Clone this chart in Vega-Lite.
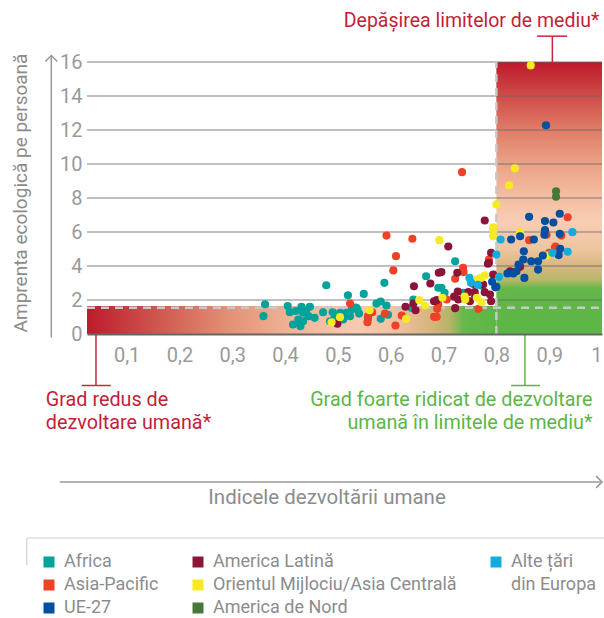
{
  "$schema": "https://vega.github.io/schema/vega-lite/v6.json",
  "autosize": {"type": "none"},
  "padding": {"left": 87, "top": 62, "right": 2, "bottom": 284},
  "width": 515,
  "height": 272,
  "config": {"view": {"stroke": null}, "font": "Roboto"},
  "datasets": {
    "points": [
      {"r":"Africa","x":0.362,"y":1.75},{"r":"Africa","x":0.359,"y":1.05},{"r":"Africa","x":0.405,"y":1.64},{"r":"Africa","x":0.409,"y":1.28},{"r":"Africa","x":0.431,"y":1.6},{"r":"Africa","x":0.447,"y":1.6},{"r":"Africa","x":0.434,"y":1.25},{"r":"Africa","x":0.425,"y":0.85},{"r":"Africa","x":0.415,"y":0.56},{"r":"Africa","x":0.429,"y":0.46},{"r":"Africa","x":0.444,"y":1.05},{"r":"Africa","x":0.456,"y":0.95},{"r":"Africa","x":0.472,"y":1.28},{"r":"Africa","x":0.49,"y":1.28},{"r":"Africa","x":0.494,"y":0.95},{"r":"Africa","x":0.485,"y":0.75},{"r":"Africa","x":0.504,"y":1.25},{"r":"Africa","x":0.478,"y":2.87},{"r":"Africa","x":0.519,"y":2.28},{"r":"Africa","x":0.516,"y":1.25},{"r":"Africa","x":0.526,"y":1.44},{"r":"Africa","x":0.535,"y":1.54},{"r":"Africa","x":0.523,"y":1.05},{"r":"Africa","x":0.532,"y":1.55},{"r":"Africa","x":0.537,"y":1.44},{"r":"Africa","x":0.549,"y":2.36},{"r":"Africa","x":0.557,"y":0.89},{"r":"Africa","x":0.573,"y":1.79},{"r":"Africa","x":0.581,"y":1.91},{"r":"Africa","x":0.592,"y":1.68},{"r":"Africa","x":0.581,"y":0.89},{"r":"Africa","x":0.595,"y":1.13},{"r":"Africa","x":0.588,"y":3.01},{"r":"Africa","x":0.643,"y":2.03},{"r":"Africa","x":0.639,"y":1.54},{"r":"Africa","x":0.667,"y":3.4},{"r":"Africa","x":0.69,"y":2.72},{"r":"Africa","x":0.722,"y":4.28},{"r":"Africa","x":0.696,"y":2.72},{"r":"Africa","x":0.702,"y":2.42},{"r":"Africa","x":0.737,"y":2.42},{"r":"Africa","x":0.772,"y":2.85},{"r":"Africa","x":0.42,"y":1.35},{"r":"Africa","x":0.44,"y":1.4},{"r":"Africa","x":0.51,"y":0.85},{"r":"Africa","x":0.54,"y":1.2},{"r":"Africa","x":0.434,"y":0.75},
      {"r":"Asia-Pacific","x":0.523,"y":1.79},{"r":"Asia-Pacific","x":0.557,"y":1.05},{"r":"Asia-Pacific","x":0.565,"y":1.28},{"r":"Asia-Pacific","x":0.556,"y":0.69},{"r":"Asia-Pacific","x":0.589,"y":1.2},{"r":"Asia-Pacific","x":0.609,"y":0.5},{"r":"Asia-Pacific","x":0.621,"y":1.09},{"r":"Asia-Pacific","x":0.682,"y":1.01},{"r":"Asia-Pacific","x":0.69,"y":1.74},{"r":"Asia-Pacific","x":0.641,"y":5.6},{"r":"Asia-Pacific","x":0.61,"y":4.58},{"r":"Asia-Pacific","x":0.605,"y":3.74},{"r":"Asia-Pacific","x":0.592,"y":5.79},{"r":"Asia-Pacific","x":0.735,"y":9.52},{"r":"Asia-Pacific","x":0.737,"y":3.89},{"r":"Asia-Pacific","x":0.738,"y":3.64},{"r":"Asia-Pacific","x":0.722,"y":3.25},{"r":"Asia-Pacific","x":0.706,"y":2.03},{"r":"Asia-Pacific","x":0.766,"y":1.48},{"r":"Asia-Pacific","x":0.687,"y":1.01},{"r":"Asia-Pacific","x":0.688,"y":1.48},{"r":"Asia-Pacific","x":0.786,"y":4.38},{"r":"Asia-Pacific","x":0.862,"y":5.52},{"r":"Asia-Pacific","x":0.911,"y":5.07},{"r":"Asia-Pacific","x":0.935,"y":6.87},{"r":"Asia-Pacific","x":0.923,"y":5.79},{"r":"Asia-Pacific","x":0.895,"y":5.84},{"r":"Asia-Pacific","x":0.9,"y":4.78},{"r":"Asia-Pacific","x":0.912,"y":5.15},
      {"r":"America Latină","x":0.499,"y":0.6},{"r":"America Latină","x":0.644,"y":2.81},{"r":"America Latină","x":0.675,"y":2.97},{"r":"America Latină","x":0.691,"y":3.6},{"r":"America Latină","x":0.628,"y":1.6},{"r":"America Latină","x":0.643,"y":1.79},{"r":"America Latină","x":0.647,"y":1.4},{"r":"America Latină","x":0.682,"y":1.93},{"r":"America Latină","x":0.709,"y":5.15},{"r":"America Latină","x":0.79,"y":4.78},{"r":"America Latină","x":0.786,"y":4.19},{"r":"America Latină","x":0.778,"y":6.68},{"r":"America Latină","x":0.726,"y":3.6},{"r":"America Latină","x":0.696,"y":3.64},{"r":"America Latină","x":0.756,"y":2.95},{"r":"America Latină","x":0.794,"y":3.5},{"r":"America Latină","x":0.775,"y":2.91},{"r":"America Latină","x":0.727,"y":2.5},{"r":"America Latină","x":0.687,"y":1.99},{"r":"America Latină","x":0.728,"y":2.03},{"r":"America Latină","x":0.747,"y":2.46},{"r":"America Latină","x":0.759,"y":2.46},{"r":"America Latină","x":0.778,"y":2.46},{"r":"America Latină","x":0.75,"y":1.93},{"r":"America Latină","x":0.788,"y":2.32},{"r":"America Latină","x":0.79,"y":1.93},{"r":"America Latină","x":0.722,"y":1.52},{"r":"America Latină","x":0.826,"y":3.69},{"r":"America Latină","x":0.845,"y":3.95},{"r":"America Latină","x":0.784,"y":4.13},{"r":"America Latină","x":0.72,"y":2.2},{"r":"America Latină","x":0.76,"y":2.2},
      {"r":"Orientul Mijlociu/Asia Centrală","x":0.504,"y":0.99},{"r":"Orientul Mijlociu/Asia Centrală","x":0.488,"y":0.69},{"r":"Orientul Mijlociu/Asia Centrală","x":0.56,"y":1.4},{"r":"Orientul Mijlociu/Asia Centrală","x":0.629,"y":0.89},{"r":"Orientul Mijlociu/Asia Centrală","x":0.654,"y":1.99},{"r":"Orientul Mijlociu/Asia Centrală","x":0.665,"y":1.68},{"r":"Orientul Mijlociu/Asia Centrală","x":0.692,"y":5.52},{"r":"Orientul Mijlociu/Asia Centrală","x":0.794,"y":5.75},{"r":"Orientul Mijlociu/Asia Centrală","x":0.794,"y":6.15},{"r":"Orientul Mijlociu/Asia Centrală","x":0.764,"y":3.21},{"r":"Orientul Mijlociu/Asia Centrală","x":0.771,"y":3.3},{"r":"Orientul Mijlociu/Asia Centrală","x":0.778,"y":3.44},{"r":"Orientul Mijlociu/Asia Centrală","x":0.698,"y":2.13},{"r":"Orientul Mijlociu/Asia Centrală","x":0.741,"y":2.03},{"r":"Orientul Mijlociu/Asia Centrală","x":0.763,"y":2.13},{"r":"Orientul Mijlociu/Asia Centrală","x":0.772,"y":1.87},{"r":"Orientul Mijlociu/Asia Centrală","x":0.865,"y":15.8},{"r":"Orientul Mijlociu/Asia Centrală","x":0.835,"y":9.74},{"r":"Orientul Mijlociu/Asia Centrală","x":0.824,"y":8.74},{"r":"Orientul Mijlociu/Asia Centrală","x":0.8,"y":7.62},{"r":"Orientul Mijlociu/Asia Centrală","x":0.794,"y":6.28},{"r":"Orientul Mijlociu/Asia Centrală","x":0.845,"y":5.99},{"r":"Orientul Mijlociu/Asia Centrală","x":0.896,"y":4.62},{"r":"Orientul Mijlociu/Asia Centrală","x":0.74,"y":2.2},
      {"r":"UE-27","x":0.894,"y":12.28},{"r":"UE-27","x":0.862,"y":6.89},{"r":"UE-27","x":0.92,"y":7.07},{"r":"UE-27","x":0.892,"y":6.64},{"r":"UE-27","x":0.908,"y":6.56},{"r":"UE-27","x":0.892,"y":6.11},{"r":"UE-27","x":0.891,"y":5.84},{"r":"UE-27","x":0.92,"y":5.89},{"r":"UE-27","x":0.845,"y":5.75},{"r":"UE-27","x":0.828,"y":5.56},{"r":"UE-27","x":0.871,"y":5.56},{"r":"UE-27","x":0.852,"y":4.87},{"r":"UE-27","x":0.921,"y":5.01},{"r":"UE-27","x":0.918,"y":4.64},{"r":"UE-27","x":0.888,"y":4.62},{"r":"UE-27","x":0.851,"y":4.38},{"r":"UE-27","x":0.866,"y":4.28},{"r":"UE-27","x":0.879,"y":4.28},{"r":"UE-27","x":0.842,"y":4.09},{"r":"UE-27","x":0.879,"y":3.79},{"r":"UE-27","x":0.838,"y":3.69},{"r":"UE-27","x":0.821,"y":3.56},{"r":"UE-27","x":0.832,"y":3.56},{"r":"UE-27","x":0.853,"y":3.3},{"r":"UE-27","x":0.8,"y":2.78},{"r":"UE-27","x":0.792,"y":3.07},{"r":"UE-27","x":0.798,"y":2.75},
      {"r":"America de Nord","x":0.913,"y":8.4},{"r":"America de Nord","x":0.913,"y":8.07},
      {"r":"Alte țări din Europa","x":0.808,"y":5.56},{"r":"Alte țări din Europa","x":0.749,"y":3.3},{"r":"Alte țări din Europa","x":0.752,"y":3.01},{"r":"Alte țări din Europa","x":0.944,"y":5.99},{"r":"Alte țări din Europa","x":0.8,"y":4.68},{"r":"Alte țări din Europa","x":0.935,"y":4.84},{"r":"Alte țări din Europa","x":0.906,"y":4.78},{"r":"Alte țări din Europa","x":0.805,"y":3.36},{"r":"Alte țări din Europa","x":0.765,"y":2.9}
    ],
    "band": [{"x": 0.025, "x2": 0.8, "y": 0, "y2": 1.65}],
    "zone": [{"x": 0.8, "x2": 1, "y": 0, "y2": 16}],
    "grid": [
      {"x": 0.025, "x2": 1, "y": 2}, {"x": 0.025, "x2": 1, "y": 4}, {"x": 0.025, "x2": 1, "y": 6}, {"x": 0.025, "x2": 1, "y": 8},
      {"x": 0.025, "x2": 1, "y": 10}, {"x": 0.025, "x2": 1, "y": 12}, {"x": 0.025, "x2": 1, "y": 14}, {"x": 0.025, "x2": 1, "y": 16}
    ],
    "dashed": [
      {"x": 0.8, "x2": 0.8, "y": 0, "y2": 16},
      {"x": 0.025, "x2": 1, "y": 1.55, "y2": 1.55}
    ],
    "redBrackets": [
      {"x": 0.042, "x2": 0.042, "y": 0, "y2": -3.03},
      {"x": 0.015, "x2": 0.07, "y": -3.03, "y2": -3.03},
      {"x": 0.906, "x2": 0.906, "y": 16, "y2": 17.52},
      {"x": 0.877, "x2": 0.934, "y": 17.52, "y2": 17.52}
    ],
    "greenBrackets": [
      {"x": 0.854, "x2": 0.854, "y": 0, "y2": -3.03},
      {"x": 0.828, "x2": 0.883, "y": -3.03, "y2": -3.03}
    ],
    "arrows": [
      {"x": -0.0426, "x2": -0.0426, "y": -0.2, "y2": 16.38},
      {"x": -0.0265, "x2": 1.0, "y": -8.7, "y2": -8.7}
    ],
    "arrowUp": [{"x": -0.0426, "y": 16.38}],
    "arrowRight": [{"x": 1.0, "y": -8.7}],
    "legendFrame": [
      {"x": -0.089, "x2": 1.02, "y": -12.0, "y2": -12.0},
      {"x": -0.089, "x2": -0.089, "y": -12.0, "y2": -13.6}
    ],
    "topText": [{"x": 0.753, "y": 18.44, "t": "Depășirea limitelor de mediu*"}],
    "redText": [
      {"x": -0.053, "y": -3.91, "t": "Grad redus de"},
      {"x": -0.053, "y": -5.21, "t": "dezvoltare umană*"}
    ],
    "greenText": [
      {"x": 0.982, "y": -3.91, "t": "Grad foarte ridicat de dezvoltare"},
      {"x": 0.982, "y": -5.21, "t": "umană în limitele de mediu*"}
    ]
  },
  "encoding": {
    "x": {
      "field": "x", "type": "quantitative",
      "scale": {"domain": [0.025, 1], "nice": false, "zero": false},
      "axis": {
        "values": [0.1, 0.2, 0.3, 0.4, 0.5, 0.6, 0.7, 0.8, 0.9, 1],
        "labelExpr": "datum.value == 1 ? '1' : replace(format(datum.value, '.1f'), '.', ',')",
        "ticks": false, "grid": false,
        "domainColor": "#666666", "domainWidth": 2,
        "labelFontSize": 20, "labelColor": "#9a9a9a", "labelPadding": 11, "labelFlush": true,
        "title": "Indicele dezvoltării umane", "titleFontSize": 20.5, "titleFontWeight": "normal",
        "titleColor": "#8c8c8c", "titleX": 239.5, "titleY": 163, "titleBaseline": "middle", "titleAlign": "center",
        "zindex": 1
      }
    },
    "y": {
      "field": "y", "type": "quantitative",
      "scale": {"domain": [0, 16], "nice": false},
      "axis": {
        "values": [0, 2, 4, 6, 8, 10, 12, 14, 16],
        "ticks": false, "grid": false, "domain": false,
        "labelFontSize": 20, "labelColor": "#9a9a9a", "labelPadding": 5,
        "title": "Amprenta ecologică pe persoană", "titleFontSize": 19, "titleFontWeight": "normal",
        "titleColor": "#8c8c8c", "titleX": -67, "titleY": 130.5, "titleAlign": "center", "titleBaseline": "middle", "titleAngle": -90
      }
    }
  },
  "layer": [
    {
      "data": {"name": "band"},
      "mark": {"type": "rect", "fill": {"gradient": "linear", "x1": 0, "y1": 0, "x2": 1, "y2": 0, "stops": [
        {"offset": 0, "color": "#bd1a2c"},
        {"offset": 0.18, "color": "#d05a50"},
        {"offset": 0.34, "color": "#e38f74"},
        {"offset": 0.5, "color": "#f0b497"},
        {"offset": 0.66, "color": "#f7cbb0"},
        {"offset": 0.75, "color": "#f2c2a2"},
        {"offset": 0.84, "color": "#d6b47c"},
        {"offset": 0.885, "color": "#b9b468"},
        {"offset": 0.92, "color": "#66b84a"},
        {"offset": 1, "color": "#5cb646"}
      ]}},
      "encoding": {"x2": {"field": "x2"}, "y2": {"field": "y2"}}
    },
    {
      "data": {"name": "zone"},
      "mark": {"type": "rect", "fill": {"gradient": "linear", "x1": 0, "y1": 0, "x2": 0, "y2": 1, "stops": [
        {"offset": 0, "color": "#bd1a2c"},
        {"offset": 0.125, "color": "#cf4c48"},
        {"offset": 0.25, "color": "#df7d68"},
        {"offset": 0.375, "color": "#eba286"},
        {"offset": 0.5, "color": "#f4bfa3"},
        {"offset": 0.59, "color": "#f8cdb4"},
        {"offset": 0.6875, "color": "#eec59f"},
        {"offset": 0.75, "color": "#d9b683"},
        {"offset": 0.8, "color": "#b9b86a"},
        {"offset": 0.835, "color": "#62b748"},
        {"offset": 1, "color": "#5cb646"}
      ]}},
      "encoding": {"x2": {"field": "x2"}, "y2": {"field": "y2"}}
    },
    {
      "data": {"name": "grid"},
      "mark": {"type": "rule", "color": "#666666", "opacity": 0.55, "strokeWidth": 1.4},
      "encoding": {"x2": {"field": "x2"}}
    },
    {
      "data": {"name": "dashed"},
      "mark": {"type": "rule", "color": "#c8c8c8", "strokeWidth": 2.5, "strokeDash": [8, 6]},
      "encoding": {"x2": {"field": "x2"}, "y2": {"field": "y2"}}
    },
    {
      "data": {"name": "points"},
      "mark": {"type": "point", "filled": true, "shape": "circle", "size": 66, "opacity": 1},
      "encoding": {
        "color": {
          "field": "r", "type": "nominal",
          "scale": {
            "domain": ["Africa", "America Latină", "Alte țări din Europa", "Asia-Pacific", "Orientul Mijlociu/Asia Centrală", "_", "UE-27", "America de Nord"],
            "range": ["#00a39a", "#8b1538", "#12acdc", "#ee4128", "#f7e922", "#ffffff", "#004fa0", "#487837"]
          },
          "legend": {
            "title": null, "orient": "none", "legendX": -47, "legendY": 491,
            "columns": 3, "direction": "horizontal", "padding": 0,
            "symbolType": "square", "symbolSize": 121, "symbolStrokeWidth": 0, "symbolOpacity": 1,
            "labelFontSize": 18, "labelColor": "#8c8c8c", "labelOffset": 6, "labelLimit": 400,
            "rowPadding": 5, "columnPadding": 30,
            "labelExpr": "datum.label == 'Alte țări din Europa' ? 'Alte țări' : datum.label == '_' ? 'din Europa' : datum.label"
          }
        }
      }
    },
    {
      "data": {"name": "redBrackets"},
      "mark": {"type": "rule", "color": "#c8283c", "strokeWidth": 1.5},
      "encoding": {"x2": {"field": "x2"}, "y2": {"field": "y2"}}
    },
    {
      "data": {"name": "greenBrackets"},
      "mark": {"type": "rule", "color": "#5cb646", "strokeWidth": 1.5},
      "encoding": {"x2": {"field": "x2"}, "y2": {"field": "y2"}}
    },
    {
      "data": {"name": "arrows"},
      "mark": {"type": "rule", "color": "#999999", "strokeWidth": 1.5},
      "encoding": {"x2": {"field": "x2"}, "y2": {"field": "y2"}}
    },
    {
      "data": {"name": "arrowUp"},
      "mark": {"type": "point", "shape": "M-1,1L0,0L1,1", "filled": false, "size": 144, "stroke": "#999999", "strokeWidth": 1.5, "opacity": 1},
      "encoding": {}
    },
    {
      "data": {"name": "arrowRight"},
      "mark": {"type": "point", "shape": "M-1,-1L0,0L-1,1", "filled": false, "size": 144, "stroke": "#999999", "strokeWidth": 1.5, "opacity": 1},
      "encoding": {}
    },
    {
      "data": {"name": "legendFrame"},
      "mark": {"type": "rule", "color": "#d0d0d0", "strokeWidth": 1.2},
      "encoding": {"x2": {"field": "x2"}, "y2": {"field": "y2"}}
    },
    {
      "data": {"name": "topText"},
      "mark": {"type": "text", "color": "#c41e3a", "fontSize": 19.5, "align": "center", "baseline": "middle"},
      "encoding": {"text": {"field": "t"}}
    },
    {
      "data": {"name": "redText"},
      "mark": {"type": "text", "color": "#c41e3a", "fontSize": 19.8, "align": "left", "baseline": "middle"},
      "encoding": {"text": {"field": "t"}}
    },
    {
      "data": {"name": "greenText"},
      "mark": {"type": "text", "color": "#5cb646", "fontSize": 19.8, "align": "right", "baseline": "middle"},
      "encoding": {"text": {"field": "t"}}
    }
  ]
}
